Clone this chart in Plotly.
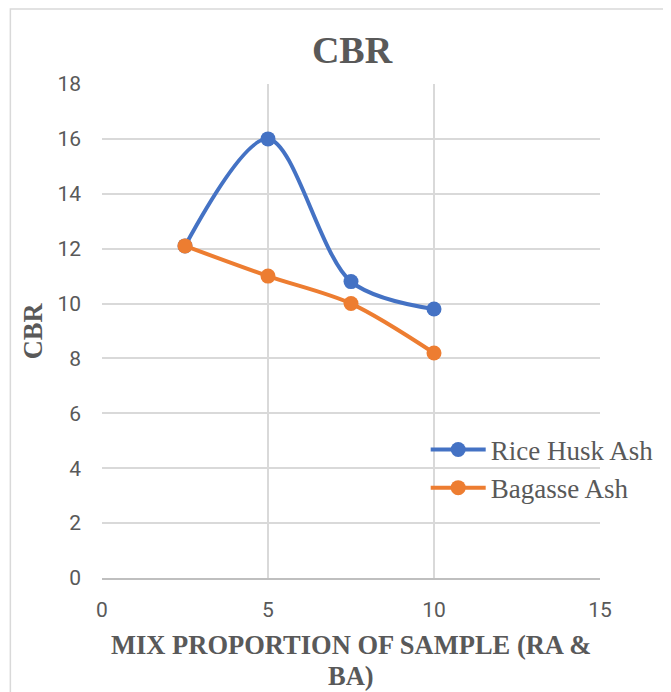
import plotly.graph_objects as go

x_vals = [2.5, 5, 7.5, 10]
rice_husk = [12.1, 16, 10.8, 9.8]
bagasse = [12.1, 11, 10, 8.2]
series_names = ["Rice Husk Ash", "Bagasse Ash"]
colors = ["#4472C4", "#ED7D31"]
x_ticks = [0, 5, 10, 15]
y_ticks = list(range(0, 19, 2))
x_title_lines = ["MIX PROPORTION OF SAMPLE (RA &amp;", "BA)"]

fig = go.Figure()
for name, ys, c in zip(series_names, [rice_husk, bagasse], colors):
    fig.add_trace(go.Scatter(
        x=x_vals, y=ys, name=name, mode="lines+markers",
        line=dict(color=c, width=4, shape="spline", smoothing=0.9),
        marker=dict(color=c, size=15),
    ))

# page body has an 8px margin: figure is placed at (8, 8)
L, R, T, B = 94, 69, 76, 114
W, H = 663, 684
pw, ph = W - L - R, H - T - B   # 500 x 494
TXT = "#595959"

annotations = []
for line, yc in zip(x_title_lines, [645, 676]):
    annotations.append(dict(text=f"<b>{line}</b>", xref="paper", yref="paper",
                            x=0.5, y=-(yc - 578) / ph, xanchor="center", yanchor="middle",
                            showarrow=False,
                            font=dict(family="Liberation Serif", size=26.5, color=TXT)))
annotations.append(dict(text="<b>CBR</b>", textangle=-90,
                        xref="paper", yref="paper", x=(33 - 102) / pw, y=(578 - 331) / ph,
                        xanchor="center", yanchor="middle", showarrow=False,
                        font=dict(family="Liberation Serif", size=26.5, color=TXT)))

fig.update_layout(
    width=W, height=H,
    margin=dict(l=L, r=R, t=T, b=B),
    paper_bgcolor="white", plot_bgcolor="white",
    title=dict(text="<b>CBR</b>", x=(L + pw / 2) / W, xanchor="center",
               y=1 - 42 / H, yanchor="middle",
               font=dict(family="Liberation Serif", size=38, color=TXT)),
    showlegend=True,
    legend=dict(x=(427 - 102) / pw, y=(578 - 469) / ph, xanchor="left", yanchor="middle",
                bgcolor="rgba(0,0,0,0)", itemwidth=55,
                font=dict(family="Liberation Serif", size=27, color=TXT),
                tracegroupgap=0),
    xaxis=dict(range=[0, 15], tickvals=x_ticks, showgrid=True,
               gridcolor="#d9d9d9", gridwidth=1.5, zeroline=False,
               showline=True, linecolor="#bfbfbf", linewidth=1.5,
               ticks="", ticklabelstandoff=12,
               tickfont=dict(family="Roboto", size=21, color=TXT),
               automargin=False),
    yaxis=dict(range=[0, 18], tickvals=y_ticks, showgrid=True,
               gridcolor="#d9d9d9", gridwidth=1.5, zeroline=False,
               showline=False, ticks="",
               tickfont=dict(family="Roboto", size=21, color=TXT),
               ticklabelstandoff=20,
               automargin=False),
    annotations=annotations,
)

# outer chart border
fig.add_shape(type="rect", xref="paper", yref="paper",
              x0=(10 - 102) / pw, x1=(700 - 102) / pw,
              y0=(578 - 720) / ph, y1=(578 - 9) / ph,
              line=dict(color="#d9d9d9", width=1.5), fillcolor="rgba(0,0,0,0)", layer="below")

fig.write_html("out.html")
